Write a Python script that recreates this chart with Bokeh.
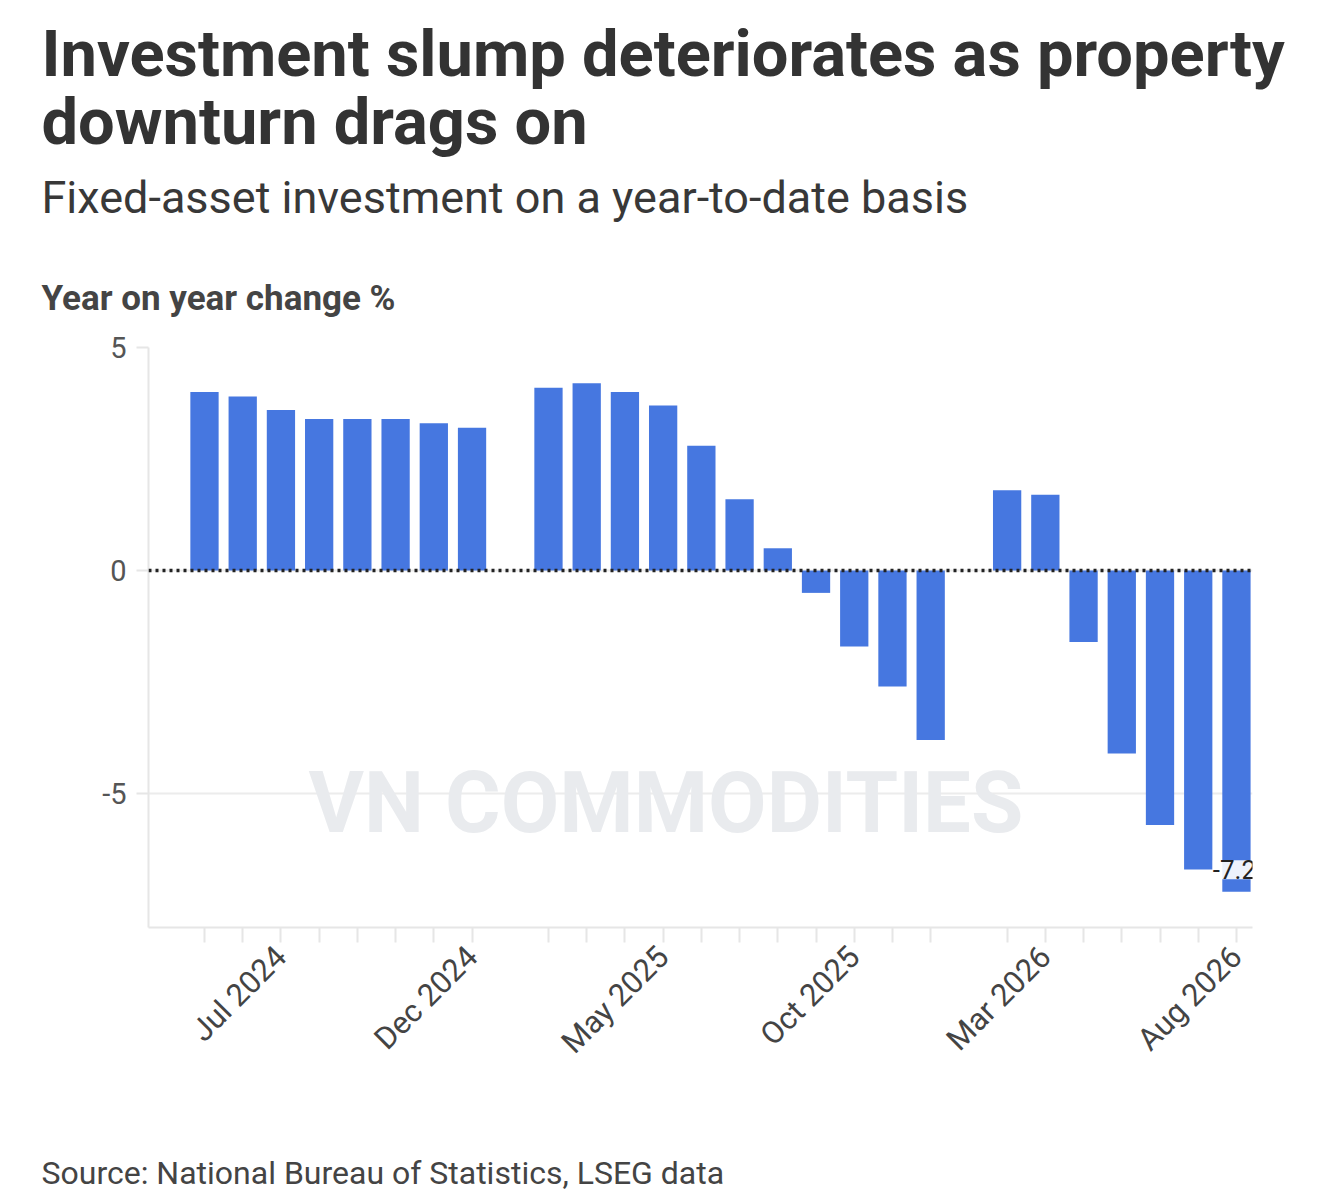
import math
from bokeh.plotting import figure
from bokeh.models import Title, Span, Label, FixedTicker, Range1d
from bokeh.embed import file_html
from bokeh.resources import INLINE

# ---- data ----
months = ["2024-05", "2024-06", "2024-07", "2024-08", "2024-09", "2024-10", "2024-11", "2024-12",
          "2025-02", "2025-03", "2025-04", "2025-05", "2025-06", "2025-07", "2025-08", "2025-09",
          "2025-10", "2025-11", "2025-12",
          "2026-02", "2026-03", "2026-04", "2026-05", "2026-06", "2026-07", "2026-08"]
values = [4.0, 3.9, 3.6, 3.4, 3.4, 3.4, 3.3, 3.2,
          4.1, 4.2, 4.0, 3.7, 2.8, 1.6, 0.5, -0.5,
          -1.7, -2.6, -3.8,
          1.8, 1.7, -1.6, -4.1, -5.7, -6.7, -7.2]
shown_labels = ["Jul 2024", "Dec 2024", "May 2025", "Oct 2025", "Mar 2026", "Aug 2026"]
y_ticks = [-5, 0, 5]
y_tick_labels = ["-5", "0", "5"]

title_line1 = "Investment slump deteriorates as property"
title_line2 = "downturn drags on"
subtitle = "Fixed-asset investment on a year-to-date basis"
y_label = "Year on year change %"
source = "Source: National Bureau of Statistics, LSEG data"
last_label = "-7.2"
watermark = "VN COMMODITIES"

MON = ["Jan", "Feb", "Mar", "Apr", "May", "Jun", "Jul", "Aug", "Sep", "Oct", "Nov", "Dec"]
start_y, start_m = 2024, 5
xs, names = [], []
for s in months:
    yy, mm = int(s[:4]), int(s[5:])
    xs.append((yy - start_y) * 12 + (mm - start_m))
    names.append(f"{MON[mm-1]} {yy}")

FONT = "Roboto"
W, H = 1312, 1196

p = figure(width=W, height=H, output_backend="svg", toolbar_location=None,
           x_range=Range1d(-1.465, xs[-1] + 0.42), y_range=Range1d(-8, 5),
           min_border_left=148, min_border_right=60, min_border_top=347, min_border_bottom=269)
p.outline_line_color = None
p.background_fill_color = "white"
p.border_fill_color = "white"

# watermark
p.add_layout(Label(x=12.07, y=-5.22, text=watermark, text_align="center",
                   text_baseline="middle", text_font=FONT, text_font_style="bold",
                   text_font_size="85px", text_color="#e9ebee", level="underlay"))

p.vbar(x=xs, top=values, width=0.74, color="#4677E0", line_color=None)

p.add_layout(Span(location=0, dimension="width", line_color="#222222", line_width=3.5,
                  line_dash="3 4"))

# last value label
p.add_layout(Label(x=xs[-1], y=values[-1], y_offset=22, x_offset=-2, text=last_label,
                   text_align="center", text_baseline="middle", text_font=FONT,
                   text_font_size="26px", text_color="#222222",
                   background_fill_color="white", background_fill_alpha=0.9))

# axes
p.xaxis.ticker = FixedTicker(ticks=xs)
p.xaxis.major_label_overrides = {x: (n if n in shown_labels else "") for x, n in zip(xs, names)}
p.xaxis.major_label_orientation = math.pi / 4
p.xaxis.major_label_text_font = FONT
p.xaxis.major_label_text_font_size = "31px"
p.xaxis.major_label_text_color = "#444444"
p.xaxis.axis_line_color = "#e6e6e6"
p.xaxis.axis_line_width = 2
p.xaxis.major_tick_line_color = "#e6e6e6"
p.xaxis.major_tick_line_width = 2
p.xaxis.major_tick_out = 15
p.xaxis.major_tick_in = 0
p.xaxis.minor_tick_line_color = None
p.xaxis.major_label_standoff = 9

p.yaxis.ticker = FixedTicker(ticks=y_ticks)
p.yaxis.major_label_overrides = {t: l for t, l in zip(y_ticks, y_tick_labels)}
p.yaxis.major_label_text_font = FONT
p.yaxis.major_label_text_font_size = "29px"
p.yaxis.major_label_text_color = "#555555"
p.yaxis.axis_line_color = "#e6e6e6"
p.yaxis.axis_line_width = 2
p.yaxis.major_tick_line_color = "#e6e6e6"
p.yaxis.major_tick_line_width = 2
p.yaxis.major_tick_out = 12
p.yaxis.major_tick_in = 0
p.yaxis.minor_tick_line_color = None
p.yaxis.major_label_standoff = 10

p.xgrid.grid_line_color = None
p.ygrid.grid_line_color = "#ececec"
p.ygrid.grid_line_width = 2

OFF = -107
# titles (later additions go further from the plot)
p.add_layout(Title(text=y_label, align="left", offset=OFF, text_font=FONT,
                   text_font_style="bold", text_font_size="35px", text_color="#444444",
                   standoff=58), "above")
p.add_layout(Title(text=subtitle, align="left", offset=OFF, text_font=FONT,
                   text_font_style="normal", text_font_size="45px", text_color="#383838",
                   standoff=45), "above")
p.add_layout(Title(text=title_line2, align="left", offset=OFF, text_font=FONT,
                   text_font_style="bold", text_font_size="65px", text_color="#333333",
                   standoff=-26), "above")
p.add_layout(Title(text=title_line1, align="left", offset=OFF, text_font=FONT,
                   text_font_style="bold", text_font_size="65px", text_color="#333333",
                   standoff=6), "above")

# spacer then source note
p.add_layout(Title(text=" ", align="left", text_font=FONT, text_font_size="10px",
                   standoff=62), "below")
p.add_layout(Title(text=source, align="left", offset=OFF, text_font=FONT,
                   text_font_style="normal", text_font_size="32px", text_color="#444444",
                   standoff=0), "below")

open("out.html", "w").write(file_html(p, INLINE))
